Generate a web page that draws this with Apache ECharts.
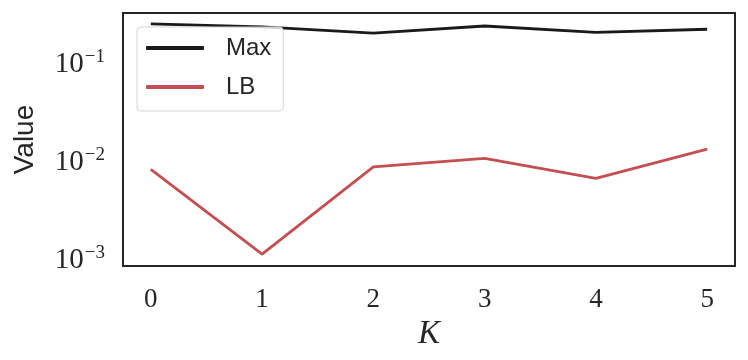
<!DOCTYPE html>
<html><head><meta charset="utf-8">
<script src="https://cdn.jsdelivr.net/npm/echarts@6/dist/echarts.min.js"></script>
<style>html,body{margin:0;padding:0;background:#fff}#c{width:748px;height:360px}</style>
</head><body><div id="c"></div>
<script>
const kValues = [0, 1, 2, 3, 4, 5];
const maxValues = [0.256, 0.239, 0.206, 0.244, 0.210, 0.226];
const lbValues = [0.0084, 0.00115, 0.0089, 0.0109, 0.0068, 0.0135];
const seriesNames = ['Max', 'LB'];
const xLabel = 'K';
const yLabel = 'Value';

const chart = echarts.init(document.getElementById('c'));
const serif = '"Liberation Serif", "DejaVu Serif", serif';
const sans = '"Liberation Sans", "DejaVu Sans", sans-serif';
chart.setOption({
  animation: false,
  backgroundColor: '#fff',
  grid: { left: 123, top: 13, right: 13, bottom: 94, show: true, borderColor: '#262626', borderWidth: 2, backgroundColor: 'transparent', containLabel: false, outerBoundsMode: 'none' },
  legend: {
    orient: 'vertical', left: 137, top: 27,
    padding: [9, 12, 12, 9], itemGap: 15, itemWidth: 58, itemHeight: 4,
    icon: 'roundRect',
    backgroundColor: 'rgba(255,255,255,0.8)', borderColor: '#d6d6d6', borderWidth: 1, borderRadius: 4,
    textStyle: { fontFamily: sans, fontSize: 24, lineHeight: 24, color: '#262626', padding: [0, 0, 0, 17] },
    data: seriesNames
  },
  xAxis: {
    type: 'value', min: -0.25, max: 5.25,
    name: xLabel, nameLocation: 'middle', nameGap: 48,
    nameTextStyle: { fontFamily: serif, fontStyle: 'italic', fontSize: 33, color: '#262626' },
    axisLine: { show: false }, axisTick: { show: false }, splitLine: { show: false },
    axisLabel: { customValues: kValues, margin: 20, fontFamily: serif, fontSize: 27, color: '#262626' }
  },
  yAxis: {
    type: 'log', logBase: 10, min: 0.000868, max: 0.331,
    name: yLabel, nameLocation: 'middle', nameGap: 84, nameRotate: 90,
    nameTextStyle: { fontFamily: sans, fontSize: 28, color: '#262626' },
    axisLine: { show: false }, axisTick: { show: false }, splitLine: { show: false }, minorTick: { show: false },
    axisLabel: {
      margin: 18, showMinLabel: false, showMaxLabel: false,
      formatter: function (v) {
        const e = Math.log10(v);
        if (Math.abs(e - Math.round(e)) > 1e-6) return '';
        const r = Math.round(e);
        return '{b|10}{s|' + (r < 0 ? '\u2212' : '') + Math.abs(r) + '}';
      },
      rich: {
        b: { fontFamily: serif, fontSize: 29, color: '#262626' },
        s: { fontFamily: serif, fontSize: 19, color: '#262626', padding: [0, 0, 13, 1] }
      }
    }
  },
  series: [
    { name: seriesNames[0], type: 'line', data: kValues.map((k, i) => [k, maxValues[i]]), showSymbol: false, symbol: 'none', lineStyle: { color: '#1a1a1a', width: 2.8 }, itemStyle: { color: '#1a1a1a' } },
    { name: seriesNames[1], type: 'line', data: kValues.map((k, i) => [k, lbValues[i]]), showSymbol: false, symbol: 'none', lineStyle: { color: '#c44e52', width: 2.8 }, itemStyle: { color: '#c44e52' } }
  ]
});
</script></body></html>
